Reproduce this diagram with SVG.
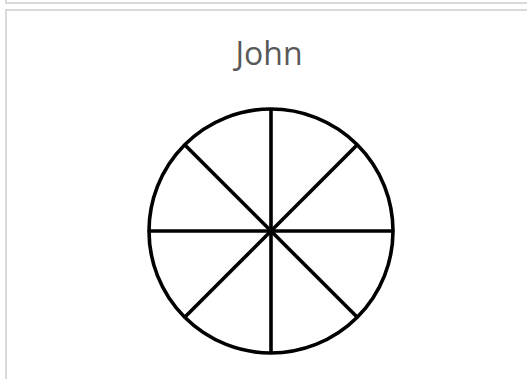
<svg xmlns="http://www.w3.org/2000/svg" width="527" height="379" viewBox="0 0 527 379">
<style>
.frame{fill:none;stroke:#d9d9d9;stroke-width:2}
.pie{fill:#fff;stroke:#000;stroke-width:3.6}
.sp{stroke:#000;stroke-width:3.6;stroke-linecap:butt}
.title{font-family:"Open Sans","Noto Sans",sans-serif;font-size:32px;fill:#595959;text-anchor:middle}
</style>
<rect width="527" height="379" fill="#fff"/>
<g id="frames">
<path class="frame" d="M6 0V3H527"/>
<path class="frame" d="M6 379V10H527"/>
</g>
<g id="title"><text class="title" x="269" y="65">John</text></g>
<g id="pie">
<circle class="pie" cx="271" cy="231" r="122"/>
</g>
<g id="connectors">
<line class="sp" x1="271" y1="109" x2="271" y2="353"/>
<line class="sp" x1="149" y1="231" x2="393" y2="231"/>
<line class="sp" x1="184.7" y1="144.7" x2="357.3" y2="317.3"/>
<line class="sp" x1="357.3" y1="144.7" x2="184.7" y2="317.3"/>
</g>
</svg>
